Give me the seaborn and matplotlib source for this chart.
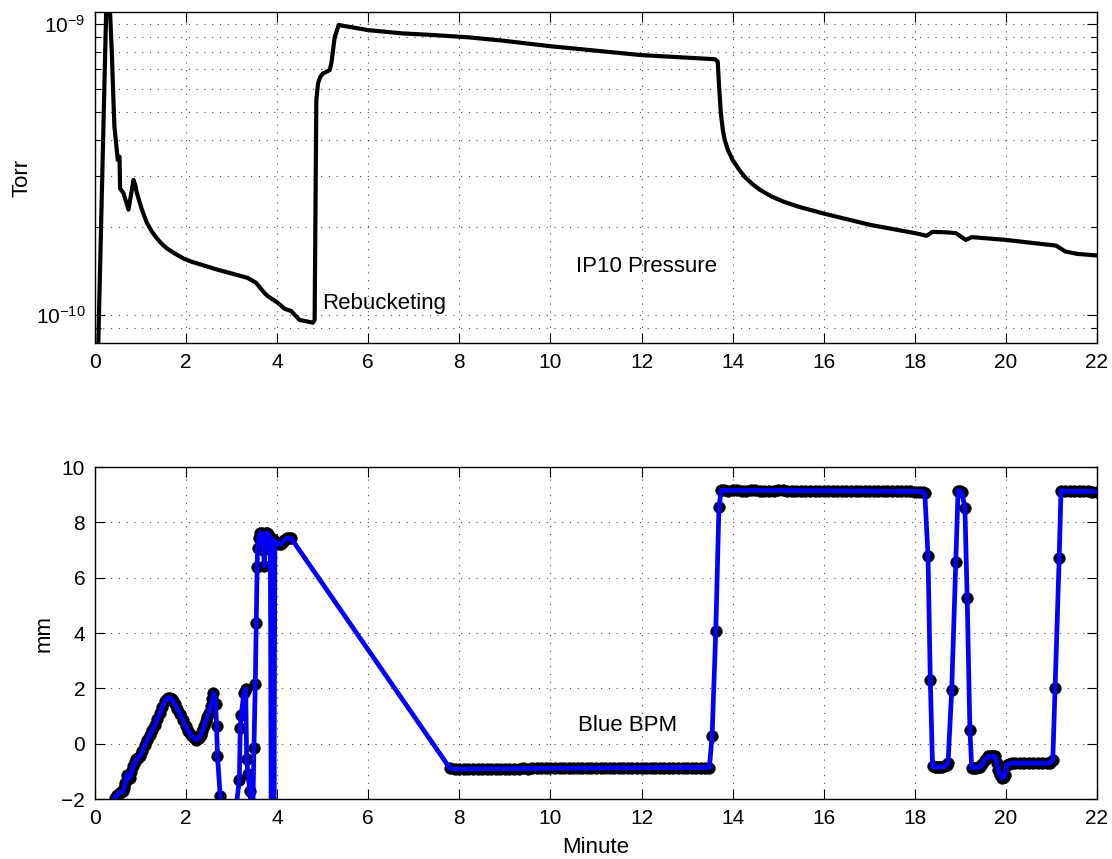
"""
IP10 pressure and blue BPM position during rebucketing
"""

import seaborn as sns
import matplotlib.pyplot as plt
from matplotlib.ticker import FixedLocator, NullFormatter

# ---- IP10 pressure: (minute, Torr) ----
pressure = [
    (0.05, 5.6e-11), (0.27, 1.6e-9), (0.331, 1.10e-9), (0.368, 8.15e-10), (0.405, 5.48e-10),
    (0.427, 4.44e-10), (0.457, 3.99e-10), (0.50, 3.41e-10), (0.538, 3.50e-10), (0.552, 2.72e-10),
    (0.626, 2.62e-10), (0.736, 2.30e-10), (0.847, 2.91e-10), (0.884, 2.80e-10), (0.920, 2.62e-10),
    (1.031, 2.30e-10), (1.141, 2.07e-10), (1.252, 1.93e-10), (1.362, 1.83e-10), (1.473, 1.75e-10),
    (1.583, 1.69e-10), (1.767, 1.62e-10), (1.951, 1.56e-10), (2.135, 1.52e-10), (2.32, 1.49e-10),
    (2.688, 1.43e-10), (3.056, 1.38e-10), (3.35, 1.34e-10), (3.535, 1.29e-10), (3.719, 1.19e-10),
    (3.792, 1.16e-10), (4.013, 1.10e-10), (4.16, 1.05e-10), (4.308, 1.03e-10), (4.492, 9.6e-11),
    (4.786, 9.4e-11), (4.823, 9.6e-11), (4.86, 5.48e-10), (4.897, 6.25e-10), (4.95, 6.6e-10),
    (5.007, 6.76e-10), (5.155, 6.95e-10), (5.19, 7.33e-10), (5.265, 9.04e-10), (5.353, 9.93e-10),
    (5.486, 9.84e-10), (6.0, 9.53e-10), (6.74, 9.29e-10), (7.47, 9.16e-10), (8.21, 9.0e-10),
    (8.95, 8.77e-10), (10.0, 8.39e-10), (12.0, 7.82e-10), (13.61, 7.57e-10), (13.673, 7.43e-10),
    (13.699, 6.25e-10), (13.742, 4.93e-10), (13.785, 4.33e-10), (13.828, 3.99e-10), (13.897, 3.69e-10),
    (14.0, 3.41e-10), (14.129, 3.18e-10), (14.258, 2.99e-10), (14.43, 2.82e-10), (14.602, 2.69e-10),
    (14.86, 2.55e-10), (15.118, 2.45e-10), (15.462, 2.35e-10), (16.0, 2.23e-10), (17.01, 2.04e-10),
    (18.0, 1.91e-10), (18.26, 1.87e-10), (18.39, 1.93e-10), (18.73, 1.92e-10), (18.90, 1.91e-10),
    (19.12, 1.81e-10), (19.25, 1.85e-10), (20.0, 1.81e-10), (20.54, 1.77e-10), (21.10, 1.73e-10),
    (21.31, 1.65e-10), (21.57, 1.62e-10), (22.0, 1.60e-10),
]

# ---- Blue BPM: (minute, mm), read segment by segment ----
bpm_start = [
    (0.35, -2.3), (0.43, -1.96), (0.48, -1.85), (0.54, -1.78), (0.58, -1.74),
    (0.61, -1.72), (0.64, -1.60), (0.67, -1.42), (0.70, -1.12), (0.73, -1.18),
    (0.76, -1.24), (0.80, -1.02), (0.84, -0.82), (0.88, -0.66), (0.91, -0.57),
    (0.95, -0.50), (0.99, -0.45), (1.04, -0.26), (1.10, -0.03), (1.15, 0.15),
    (1.21, 0.33), (1.26, 0.50), (1.32, 0.69), (1.37, 0.90), (1.43, 1.12),
    (1.48, 1.33), (1.54, 1.54), (1.58, 1.63), (1.61, 1.66), (1.65, 1.65),
    (1.69, 1.60), (1.72, 1.53), (1.76, 1.42), (1.81, 1.26), (1.87, 1.06),
    (1.93, 0.85), (1.99, 0.63), (2.04, 0.47), (2.10, 0.33), (2.15, 0.23),
    (2.21, 0.15), (2.25, 0.16), (2.28, 0.21), (2.32, 0.32), (2.36, 0.45),
    (2.40, 0.64), (2.43, 0.81), (2.47, 0.97), (2.50, 1.12), (2.54, 1.36),
    (2.58, 1.60), (2.60, 1.84),
]
bpm_jumps = [
    (2.65, 1.42), (2.67, 0.63), (2.69, -0.45), (2.75, -1.90), (2.85, -3.0),
    (3.05, -3.0), (3.17, -1.30), (3.19, 0.56), (3.21, 1.04), (3.27, 1.83),
    (3.31, 1.98), (3.33, -0.57), (3.36, -1.10), (3.40, -1.72), (3.46, -3.0),
    (3.49, -0.17), (3.52, 2.15), (3.54, 4.37), (3.56, 6.37), (3.57, 7.09),
    (3.60, 7.45), (3.63, 7.62), (3.66, 7.60), (3.68, 7.55), (3.70, 7.00),
    (3.72, 6.43), (3.74, 7.10), (3.76, 7.60), (3.78, 7.62), (3.80, 7.58),
    (3.83, 7.50), (3.85, 7.45), (3.87, -3.0), (3.90, 7.40), (3.93, -3.0),
    (3.95, 7.30), (4.00, 7.25), (4.05, 7.22), (4.09, 7.22), (4.13, 7.30),
    (4.16, 7.38), (4.21, 7.42), (4.26, 7.42), (4.31, 7.42),
]
bpm_low_flat = [
    (7.79, -0.88), (7.9, -0.92), (8.0, -0.92), (8.1, -0.92), (8.2, -0.91),
    (8.3, -0.91), (8.4, -0.91), (8.5, -0.91), (8.6, -0.90), (8.7, -0.90),
    (8.8, -0.91), (8.9, -0.91), (9.0, -0.90), (9.1, -0.90), (9.2, -0.90),
    (9.3, -0.90), (9.4, -0.89), (9.5, -0.90), (9.6, -0.89), (9.7, -0.89),
    (9.8, -0.89), (9.9, -0.89), (10.0, -0.89), (10.1, -0.89), (10.2, -0.88),
    (10.3, -0.88), (10.4, -0.89), (10.5, -0.89), (10.6, -0.88), (10.7, -0.88),
    (10.8, -0.88), (10.9, -0.88), (11.0, -0.88), (11.1, -0.88), (11.2, -0.87),
    (11.3, -0.88), (11.4, -0.87), (11.5, -0.87), (11.6, -0.88), (11.7, -0.88),
    (11.8, -0.87), (11.9, -0.87), (12.0, -0.87), (12.1, -0.87), (12.2, -0.87),
    (12.3, -0.87), (12.4, -0.86), (12.5, -0.86), (12.6, -0.87), (12.7, -0.87),
    (12.8, -0.86), (12.9, -0.86), (13.0, -0.86), (13.1, -0.86), (13.2, -0.86),
    (13.3, -0.86), (13.4, -0.86), (13.49, -0.86),
]
bpm_step_up = [(13.55, 0.29), (13.63, 4.06), (13.70, 8.54)]
bpm_high_flat = [
    (13.75, 9.16), (13.8, 9.16), (13.9, 9.15), (14.0, 9.16), (14.1, 9.16),
    (14.2, 9.15), (14.3, 9.15), (14.4, 9.16), (14.5, 9.16), (14.6, 9.15),
    (14.7, 9.15), (14.8, 9.15), (14.9, 9.15), (15.0, 9.16), (15.1, 9.16),
    (15.2, 9.15), (15.3, 9.15), (15.4, 9.15), (15.5, 9.15), (15.6, 9.14),
    (15.7, 9.14), (15.8, 9.15), (15.9, 9.15), (16.0, 9.14), (16.1, 9.14),
    (16.2, 9.14), (16.3, 9.14), (16.4, 9.14), (16.5, 9.14), (16.6, 9.13),
    (16.7, 9.13), (16.8, 9.14), (16.9, 9.14), (17.0, 9.13), (17.1, 9.13),
    (17.2, 9.13), (17.3, 9.13), (17.4, 9.12), (17.5, 9.12), (17.6, 9.12),
    (17.7, 9.12), (17.8, 9.12), (17.9, 9.12), (18.0, 9.11), (18.1, 9.11),
    (18.18, 9.10),
]
bpm_swings = [
    (18.22, 9.05), (18.29, 6.79), (18.34, 2.31), (18.39, -0.82), (18.44, -0.84),
    (18.48, -0.84), (18.52, -0.84), (18.56, -0.84), (18.60, -0.84), (18.65, -0.82),
    (18.70, -0.76), (18.73, -0.70), (18.81, 1.93), (18.90, 6.58), (18.95, 9.15),
    (18.99, 9.14), (19.03, 9.11), (19.10, 8.53), (19.15, 5.28), (19.21, 0.48),
    (19.25, -0.88), (19.30, -0.87), (19.34, -0.86), (19.39, -0.85), (19.43, -0.84),
    (19.48, -0.75), (19.54, -0.58), (19.58, -0.50), (19.61, -0.46), (19.65, -0.46),
    (19.69, -0.46), (19.72, -0.46), (19.76, -0.46), (19.80, -0.70), (19.83, -0.94),
    (19.87, -1.12), (19.91, -1.24), (19.95, -1.20), (19.98, -1.12), (20.02, -0.76),
    (20.07, -0.72), (20.13, -0.70), (20.2, -0.70), (20.3, -0.70), (20.4, -0.70),
    (20.5, -0.70), (20.6, -0.70), (20.7, -0.70), (20.8, -0.70), (20.9, -0.70),
    (20.97, -0.70), (21.03, -0.58), (21.08, 2.01), (21.17, 6.70),
]
bpm_end_flat = [
    (21.21, 9.15), (21.3, 9.13), (21.4, 9.12), (21.5, 9.12), (21.6, 9.12),
    (21.7, 9.12), (21.8, 9.12), (21.9, 9.11), (22.0, 9.11),
]

x_ticks = list(range(0, 23, 2))
bpm_ticks = list(range(-2, 11, 2))

p_minute, p_torr = zip(*pressure)
bpm = bpm_start + bpm_jumps + bpm_low_flat + bpm_step_up + bpm_high_flat + bpm_swings + bpm_end_flat
bpm_minute, bpm_mm = zip(*bpm)

sns.set_style("ticks")
plt.rcParams["font.family"] = ["Liberation Sans", "DejaVu Sans"]
plt.rcParams["mathtext.fontset"] = "custom"
plt.rcParams["mathtext.rm"] = "Liberation Sans"
plt.rcParams["mathtext.it"] = "Liberation Sans:italic"
plt.rcParams["mathtext.default"] = "regular"
plt.rcParams["text.color"] = "k"
plt.rcParams["axes.labelcolor"] = "k"

FS = 15
FS_TEXT = 16
grid_kw = dict(color="k", linestyle=(0, (1, 6)), linewidth=0.8, alpha=0.7)


def style_axes(ax):
    for s in ax.spines.values():
        s.set_visible(True)
        s.set_color("k")
        s.set_linewidth(1.0)
    ax.tick_params(which="both", direction="in", top=True, right=True,
                   labelsize=FS, colors="k")
    ax.tick_params(which="major", length=7, width=0.8, pad=7)
    ax.tick_params(which="minor", length=4, width=0.8)
    ax.set_xlim(0, 22)
    ax.set_xticks(x_ticks)


fig = plt.figure(figsize=(11.12, 8.59), dpi=100)
ax1 = fig.add_axes([0.0854, 0.6007, 0.9011, 0.3853])
ax2 = fig.add_axes([0.0854, 0.0698, 0.9011, 0.3865])

# top: pressure on a log axis
sns.lineplot(x=list(p_minute), y=list(p_torr), ax=ax1, color="k", linewidth=3.0,
             sort=False, estimator=None)
ax1.set_yscale("log")
ax1.set_ylim(8.0e-11, 1.1e-9)
style_axes(ax1)
ax1.yaxis.set_major_locator(FixedLocator([1e-10, 1e-9]))
ax1.set_yticklabels([r"$10^{-10}$", r"$10^{-9}$"])
ax1.yaxis.set_minor_locator(FixedLocator([9e-11] + [k * 1e-10 for k in range(2, 10)]))
ax1.yaxis.set_minor_formatter(NullFormatter())
ax1.grid(True, which="major", axis="x", **grid_kw)
ax1.grid(True, which="both", axis="y", **grid_kw)
ax1.set_ylabel("Torr", fontsize=FS_TEXT)
ax1.yaxis.set_label_coords(-0.062, 0.5)
ax1.text(4.985, 1.096e-10, "Rebucketing", fontsize=FS_TEXT, ha="left", va="center")
ax1.text(10.56, 1.466e-10, "IP10 Pressure", fontsize=FS_TEXT, ha="left", va="center")

# bottom: BPM position, black dots under a blue line
sns.scatterplot(x=list(bpm_minute), y=list(bpm_mm), ax=ax2, color="k", s=72,
                edgecolor="k", linewidth=0.3, zorder=2)
sns.lineplot(x=list(bpm_minute), y=list(bpm_mm), ax=ax2, color=(0, 0, 1),
             linewidth=3.4, sort=False, estimator=None, zorder=3)
ax2.set_ylim(-2, 10)
style_axes(ax2)
ax2.set_yticks(bpm_ticks)
ax2.grid(True, which="major", **grid_kw)
ax2.set_ylabel("mm", fontsize=FS_TEXT)
ax2.yaxis.set_label_coords(-0.040, 0.5)
ax2.set_xlabel("Minute", fontsize=FS_TEXT)
ax2.xaxis.set_label_coords(0.5, -0.115)
ax2.text(10.60, 0.66, "Blue BPM", fontsize=FS_TEXT, ha="left", va="center")

fig.savefig("out.png", dpi=100)
plt.close(fig)
